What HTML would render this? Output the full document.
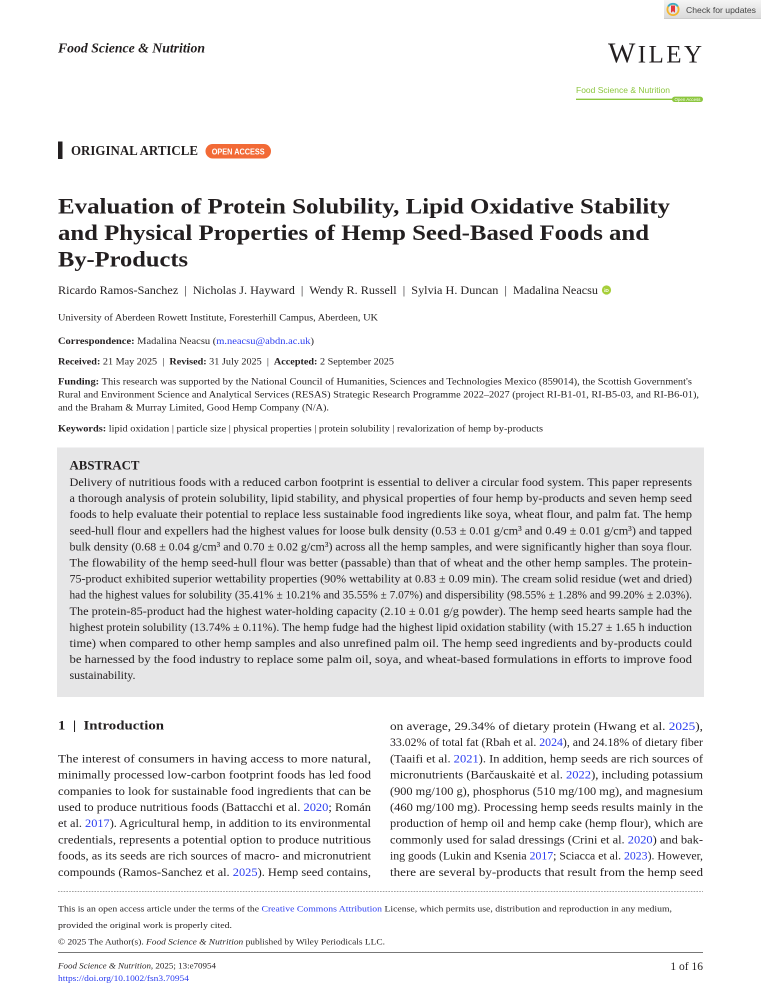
<!DOCTYPE html>
<html>
<head>
<meta charset="utf-8">
<style>
  html,body{margin:0;padding:0;background:#fff;}
  svg{display:block;}
  .s{font-family:"Liberation Serif",serif;fill:#231f20;}
  .a{font-family:"Liberation Sans",sans-serif;}
  .b{font-weight:bold;}
  .i{font-style:italic;}
  .l{fill:#2a3cf0;}
</style>
</head>
<body>
<svg width="761" height="1000" viewBox="0 0 761 1000" xmlns="http://www.w3.org/2000/svg">
  <defs>
    <linearGradient id="cfu" x1="0" y1="0" x2="0" y2="1">
      <stop offset="0" stop-color="#f5f5f5"/>
      <stop offset="1" stop-color="#d9d9d9"/>
    </linearGradient>
  </defs>
  <rect x="0" y="0" width="761" height="1000" fill="#fff"/>

  <!-- Check for updates -->
  <rect x="664" y="0" width="97" height="19" fill="url(#cfu)"/>
  <line x1="664" y1="18.7" x2="761" y2="18.7" stroke="#c4c4c4" stroke-width="0.6"/>
  <circle cx="673" cy="9.5" r="5.6" fill="none" stroke="#f3b630" stroke-width="1.8"/>
  <path d="M668.2 6.5 A5.6 5.6 0 0 1 677.8 6.5" fill="none" stroke="#3aaccb" stroke-width="1.8"/>
  <path d="M671 5.5 h4 v7.2 l-2 -1.6 l-2 1.6 z" fill="#e2363b"/>
  <text class="a" x="686" y="13" font-size="8.5" fill="#444" textLength="70" lengthAdjust="spacingAndGlyphs">Check for updates</text>

  <!-- Journal header -->
  <text class="s b i" x="58" y="52.5" font-size="13.5" textLength="147" lengthAdjust="spacingAndGlyphs">Food Science &amp; Nutrition</text>

  <text class="s" x="608" y="62.5" font-size="25" textLength="94" lengthAdjust="spacing"><tspan font-size="29">W</tspan>ILEY</text>

  <text class="a" x="576" y="93" font-size="8.3" fill="#8cc63e" textLength="94" lengthAdjust="spacingAndGlyphs">Food Science &amp; Nutrition</text>
  <line x1="576" y1="99.3" x2="673" y2="99.3" stroke="#8cc63e" stroke-width="1.4"/>
  <rect x="672" y="96.6" width="31" height="5.4" rx="2.7" fill="#8cc63e"/>
  <text class="a" x="687.5" y="100.8" font-size="4.6" fill="#fff" text-anchor="middle" textLength="26" lengthAdjust="spacingAndGlyphs">Open Access</text>

  <!-- Original article -->
  <rect x="58" y="141.5" width="4.5" height="17.5" fill="#231f20"/>
  <text class="s b" x="71" y="155" font-size="13.5" textLength="127" lengthAdjust="spacingAndGlyphs">ORIGINAL ARTICLE</text>
  <rect x="205.5" y="144" width="65.5" height="14.5" rx="7.2" fill="#f26a36"/>
  <text class="a b" x="238.2" y="154.3" font-size="8.3" fill="#fff" text-anchor="middle" textLength="53" lengthAdjust="spacingAndGlyphs">OPEN ACCESS</text>

  <!-- Title -->
  <text class="s b" x="58" y="213.5" font-size="22" textLength="612" lengthAdjust="spacingAndGlyphs">Evaluation of Protein Solubility, Lipid Oxidative Stability</text>
  <text class="s b" x="58" y="240" font-size="22" textLength="591" lengthAdjust="spacingAndGlyphs">and Physical Properties of Hemp Seed-Based Foods and</text>
  <text class="s b" x="58" y="266.5" font-size="22" textLength="130" lengthAdjust="spacingAndGlyphs">By-Products</text>

  <!-- Authors -->
  <text class="s" x="58" y="294" font-size="11.5" textLength="540" lengthAdjust="spacingAndGlyphs" xml:space="preserve">Ricardo Ramos-Sanchez  |  Nicholas J. Hayward  |  Wendy R. Russell  |  Sylvia H. Duncan  |  Madalina Neacsu</text>
  <circle cx="606.5" cy="290" r="4.6" fill="#a6ce39"/>
  <text class="a b" x="606.5" y="291.8" font-size="4.8" fill="#fff" text-anchor="middle">iD</text>

  <text class="s" x="58" y="320.7" font-size="9.6" textLength="320" lengthAdjust="spacingAndGlyphs">University of Aberdeen Rowett Institute, Foresterhill Campus, Aberdeen, UK</text>

  <text class="s" x="58" y="344" font-size="9.6" textLength="256" lengthAdjust="spacingAndGlyphs"><tspan class="b">Correspondence:</tspan> Madalina Neacsu (<tspan class="l">m.neacsu@abdn.ac.uk</tspan>)</text>

  <text class="s" x="58" y="364.3" font-size="9.6" textLength="336" lengthAdjust="spacingAndGlyphs" xml:space="preserve"><tspan class="b">Received:</tspan> 21 May 2025  |  <tspan class="b">Revised:</tspan> 31 July 2025  |  <tspan class="b">Accepted:</tspan> 2 September 2025</text>

  <text class="s" x="58" y="384.3" font-size="9.6" textLength="634" lengthAdjust="spacingAndGlyphs"><tspan class="b">Funding:</tspan> This research was supported by the National Council of Humanities, Sciences and Technologies Mexico (859014), the Scottish Government's</text>
  <text class="s" x="58" y="397.7" font-size="9.6" textLength="641" lengthAdjust="spacingAndGlyphs">Rural and Environment Science and Analytical Services (RESAS) Strategic Research Programme 2022–2027 (project RI-B1-01, RI-B5-03, and RI-B6-01),</text>
  <text class="s" x="58" y="410.7" font-size="9.6" textLength="271" lengthAdjust="spacingAndGlyphs">and the Braham &amp; Murray Limited, Good Hemp Company (N/A).</text>

  <text class="s" x="58" y="431.3" font-size="9.6" textLength="485" lengthAdjust="spacingAndGlyphs" xml:space="preserve"><tspan class="b">Keywords:</tspan> lipid oxidation | particle size | physical properties | protein solubility | revalorization of hemp by-products</text>

  <!-- Abstract -->
  <rect x="57" y="447.5" width="647" height="249.5" fill="#e6e6e7"/>
  <text class="s b" x="69.5" y="469.3" font-size="12.5" textLength="70" lengthAdjust="spacingAndGlyphs">ABSTRACT</text>
  <g class="s" font-size="12">
    <text x="69.5" y="486" textLength="622.5" lengthAdjust="spacingAndGlyphs">Delivery of nutritious foods with a reduced carbon footprint is essential to deliver a circular food system. This paper represents</text>
    <text x="69.5" y="502.1" textLength="622.5" lengthAdjust="spacingAndGlyphs">a thorough analysis of protein solubility, lipid stability, and physical properties of four hemp by-products and seven hemp seed</text>
    <text x="69.5" y="518.2" textLength="622.5" lengthAdjust="spacingAndGlyphs">foods to help evaluate their potential to replace less sustainable food ingredients like soya, wheat flour, and palm fat. The hemp</text>
    <text x="69.5" y="534.3" textLength="622.5" lengthAdjust="spacingAndGlyphs">seed-hull flour and expellers had the highest values for loose bulk density (0.53 ± 0.01 g/cm³ and 0.49 ± 0.01 g/cm³) and tapped</text>
    <text x="69.5" y="550.4" textLength="622.5" lengthAdjust="spacingAndGlyphs">bulk density (0.68 ± 0.04 g/cm³ and 0.70 ± 0.02 g/cm³) across all the hemp samples, and were significantly higher than soya flour.</text>
    <text x="69.5" y="566.5" textLength="622.5" lengthAdjust="spacingAndGlyphs">The flowability of the hemp seed-hull flour was better (passable) than that of wheat and the other hemp samples. The protein-</text>
    <text x="69.5" y="582.6" textLength="622.5" lengthAdjust="spacingAndGlyphs">75-product exhibited superior wettability properties (90% wettability at 0.83 ± 0.09 min). The cream solid residue (wet and dried)</text>
    <text x="69.5" y="598.7" textLength="622.5" lengthAdjust="spacingAndGlyphs">had the highest values for solubility (35.41% ± 10.21% and 35.55% ± 7.07%) and dispersibility (98.55% ± 1.28% and 99.20% ± 2.03%).</text>
    <text x="69.5" y="614.8" textLength="622.5" lengthAdjust="spacingAndGlyphs">The protein-85-product had the highest water-holding capacity (2.10 ± 0.01 g/g powder). The hemp seed hearts sample had the</text>
    <text x="69.5" y="630.9" textLength="622.5" lengthAdjust="spacingAndGlyphs">highest protein solubility (13.74% ± 0.11%). The hemp fudge had the highest lipid oxidation stability (with 15.27 ± 1.65 h induction</text>
    <text x="69.5" y="647" textLength="622.5" lengthAdjust="spacingAndGlyphs">time) when compared to other hemp samples and also unrefined palm oil. The hemp seed ingredients and by-products could</text>
    <text x="69.5" y="663.1" textLength="622.5" lengthAdjust="spacingAndGlyphs">be harnessed by the food industry to replace some palm oil, soya, and wheat-based formulations in efforts to improve food</text>
    <text x="69.5" y="679.2" textLength="66" lengthAdjust="spacingAndGlyphs">sustainability.</text>
  </g>

  <!-- Introduction heading -->
  <text class="s b" x="58" y="729.5" font-size="12.5" textLength="106" lengthAdjust="spacingAndGlyphs" xml:space="preserve">1  |  Introduction</text>

  <!-- Left column -->
  <g class="s" font-size="12">
    <text x="58" y="762.4" textLength="313" lengthAdjust="spacingAndGlyphs">The interest of consumers in having access to more natural,</text>
    <text x="58" y="778.6" textLength="313" lengthAdjust="spacingAndGlyphs">minimally processed low-carbon footprint foods has led food</text>
    <text x="58" y="794.8" textLength="313" lengthAdjust="spacingAndGlyphs">companies to look for sustainable food ingredients that can be</text>
    <text x="58" y="811" textLength="313" lengthAdjust="spacingAndGlyphs">used to produce nutritious foods (Battacchi et al. <tspan class="l">2020</tspan>; Román</text>
    <text x="58" y="827.2" textLength="313" lengthAdjust="spacingAndGlyphs">et al. <tspan class="l">2017</tspan>). Agricultural hemp, in addition to its environmental</text>
    <text x="58" y="843.4" textLength="313" lengthAdjust="spacingAndGlyphs">credentials, represents a potential option to produce nutritious</text>
    <text x="58" y="859.6" textLength="313" lengthAdjust="spacingAndGlyphs">foods, as its seeds are rich sources of macro- and micronutrient</text>
    <text x="58" y="875.8" textLength="313" lengthAdjust="spacingAndGlyphs">compounds (Ramos-Sanchez et al. <tspan class="l">2025</tspan>). Hemp seed contains,</text>
  </g>

  <!-- Right column -->
  <g class="s" font-size="12">
    <text x="390" y="730" textLength="313" lengthAdjust="spacingAndGlyphs">on average, 29.34% of dietary protein (Hwang et al. <tspan class="l">2025</tspan>),</text>
    <text x="390" y="746.2" textLength="313" lengthAdjust="spacingAndGlyphs">33.02% of total fat (Rbah et al. <tspan class="l">2024</tspan>), and 24.18% of dietary fiber</text>
    <text x="390" y="762.4" textLength="313" lengthAdjust="spacingAndGlyphs">(Taaifi et al. <tspan class="l">2021</tspan>). In addition, hemp seeds are rich sources of</text>
    <text x="390" y="778.6" textLength="313" lengthAdjust="spacingAndGlyphs">micronutrients (Barčauskaitė et al. <tspan class="l">2022</tspan>), including potassium</text>
    <text x="390" y="794.8" textLength="313" lengthAdjust="spacingAndGlyphs">(900 mg/100 g), phosphorus (510 mg/100 mg), and magnesium</text>
    <text x="390" y="811" textLength="313" lengthAdjust="spacingAndGlyphs">(460 mg/100 mg). Processing hemp seeds results mainly in the</text>
    <text x="390" y="827.2" textLength="313" lengthAdjust="spacingAndGlyphs">production of hemp oil and hemp cake (hemp flour), which are</text>
    <text x="390" y="843.4" textLength="313" lengthAdjust="spacingAndGlyphs">commonly used for salad dressings (Crini et al. <tspan class="l">2020</tspan>) and bak-</text>
    <text x="390" y="859.6" textLength="313" lengthAdjust="spacingAndGlyphs">ing goods (Lukin and Ksenia <tspan class="l">2017</tspan>; Sciacca et al. <tspan class="l">2023</tspan>). However,</text>
    <text x="390" y="875.8" textLength="313" lengthAdjust="spacingAndGlyphs">there are several by-products that result from the hemp seed</text>
  </g>

  <!-- Footer -->
  <line x1="58" y1="891.5" x2="703" y2="891.5" stroke="#444" stroke-width="0.6" stroke-dasharray="1.6,1.2"/>
  <g class="s" font-size="8.8" fill="#333">
    <text x="58" y="911.5" textLength="614" lengthAdjust="spacingAndGlyphs">This is an open access article under the terms of the <tspan class="l">Creative Commons Attribution</tspan> License, which permits use, distribution and reproduction in any medium,</text>
    <text x="58" y="928" textLength="174" lengthAdjust="spacingAndGlyphs">provided the original work is properly cited.</text>
    <text x="58" y="944.5" textLength="327" lengthAdjust="spacingAndGlyphs">© 2025 The Author(s). <tspan class="i">Food Science &amp; Nutrition</tspan> published by Wiley Periodicals LLC.</text>
  </g>
  <line x1="58" y1="952.5" x2="703" y2="952.5" stroke="#777" stroke-width="1"/>
  <text class="s" x="58" y="968.5" font-size="8.8" textLength="158" lengthAdjust="spacingAndGlyphs"><tspan class="i">Food Science &amp; Nutrition</tspan>, 2025; 13:e70954</text>
  <text class="s l" x="58" y="981" font-size="8.8" textLength="131" lengthAdjust="spacingAndGlyphs">https://doi.org/10.1002/fsn3.70954</text>
  <text class="s" x="703" y="970" font-size="11.5" text-anchor="end">1 of 16</text>
</svg>
</body>
</html>
